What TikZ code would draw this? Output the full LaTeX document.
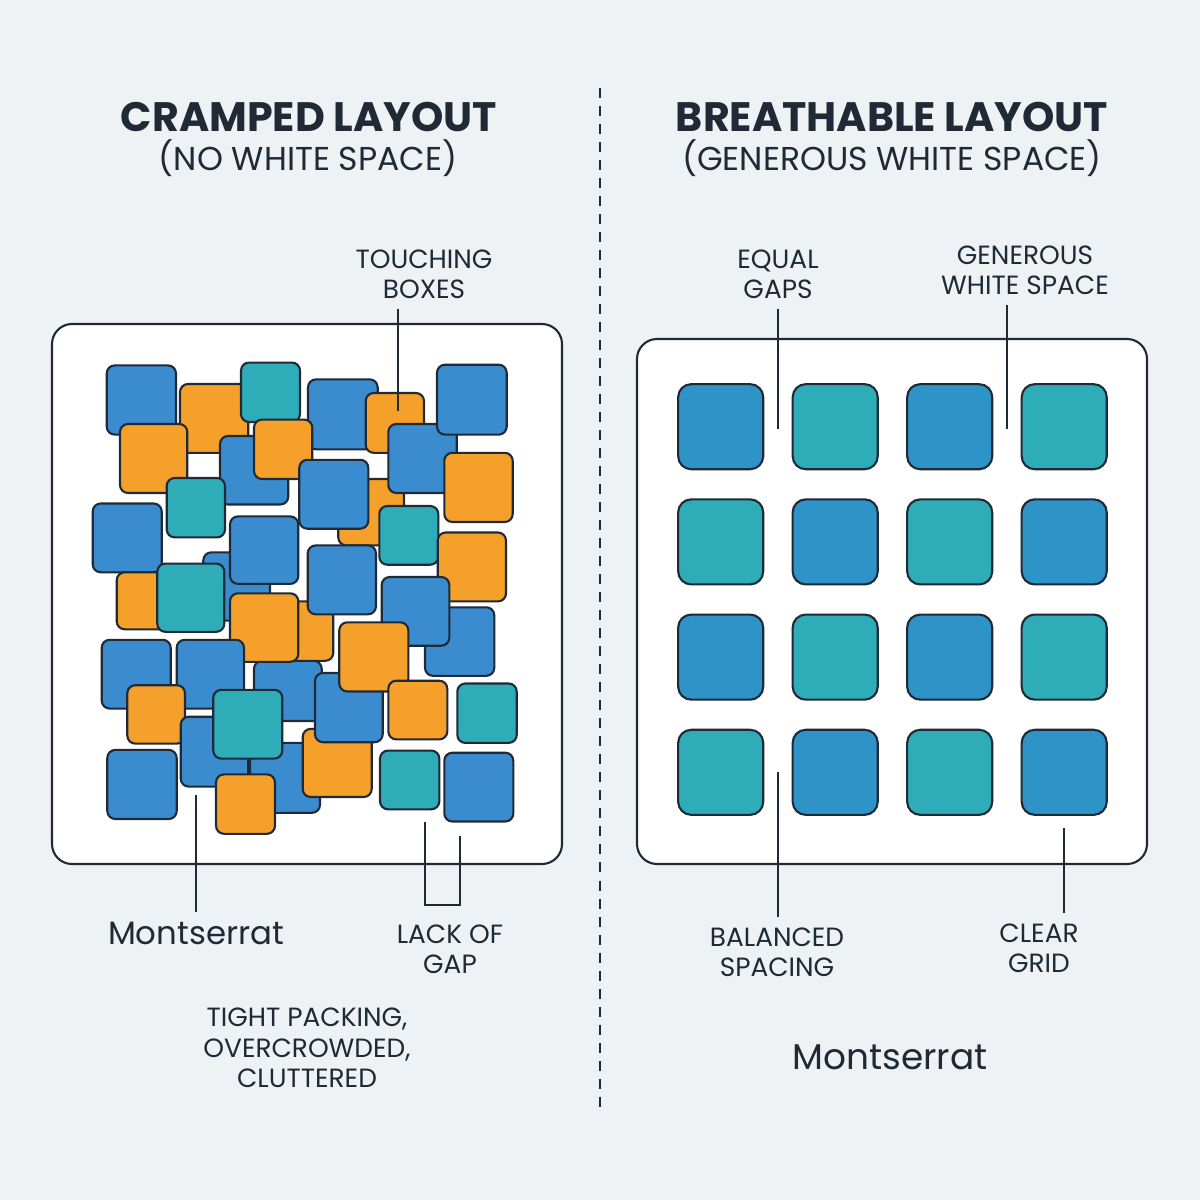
\documentclass[tikz,border=0pt]{standalone}
\usepackage{fontspec}
\setmainfont{Poppins}
\usetikzlibrary{positioning}
\definecolor{bgpaper}{HTML}{EEF2F4}
\definecolor{ink}{HTML}{1F2A36}
\definecolor{tileblue}{HTML}{3A8CCF}
\definecolor{gridblue}{HTML}{2E93C6}
\definecolor{tileteal}{HTML}{2EADB8}
\definecolor{tileorange}{HTML}{F5A02B}
\tikzset{
	tile/.style={draw=ink, line width=0.6pt, rounded corners=0.08cm},
	gridtile/.style={draw=ink, line width=0.6pt, rounded corners=0.13cm,
		minimum width=0.85cm, minimum height=0.85cm, inner sep=0pt},
	panel/.style={draw=ink, line width=0.6pt, fill=white, rounded corners=0.2cm},
	lead/.style={draw=ink, line width=0.55pt},
	note/.style={align=center, text=ink, inner sep=0pt, outer sep=0.1cm,
		font=\fontsize{7.5}{8.6}\selectfont},
	headline/.style={text=ink, inner sep=0pt, font=\fontsize{11.7}{13}\bfseries},
	subline/.style={text=ink, inner sep=0pt, font=\fontsize{9.4}{11}\selectfont},
	fontname/.style={text=ink, inner sep=0pt, outer sep=0.1cm}
}

\begin{document}
\begin{tikzpicture}[x=0.01cm, y=-0.01cm]
	
	\fill[bgpaper] (0,0) rectangle (1200,1200);
	\useasboundingbox (0,0) rectangle (1200,1200);
	
	% divider
	\draw[ink, line width=0.55pt, dash pattern=on 0.1cm off 0.08cm] (600,88) -- (600,1108);
	
	% titles
	\node[headline, anchor=base] (crampT) at (309,131) {CRAMPED LAYOUT};
	\node[subline, anchor=base] (crampS) at (308,170) {(NO WHITE SPACE)};
	\node[headline, anchor=base] (breathT) at (892,131) {BREATHABLE LAYOUT};
	\node[subline, anchor=base] (breathS) at (892,170) {(GENEROUS WHITE SPACE)};
	
	% left panel, overlapping tiles
	\draw[panel] (52,324) rectangle (562,864);
	\foreach \xa/\ya/\xb/\yb/\col in {
		106.7/365.4/176/434.6/tileblue,
		180/384/248.3/452.8/tileorange,
		241/362.6/300/422/tileteal,
		308/379.4/377.7/449.3/tileblue,
		365.7/393/424/452.8/tileorange,
		338.3/479/404/545.4/tileorange,
		388.3/424/456.7/493/tileblue,
		437/364.7/506.7/434.6/tileblue,
		444.3/452.8/512.7/522/tileorange,
		120/424/187.3/493/tileorange,
		220/436/288.3/504.5/tileblue,
		254/419.6/312.3/479/tileorange,
		166.7/478/225/537.4/tileteal,
		299.3/459.8/368.3/528.7/tileblue,
		379.3/506/438.3/564.7/tileteal,
		92.7/503.5/161.7/572.3/tileblue,
		203.3/552.4/270/620.6/tileblue,
		230/516.4/298.3/583.9/tileblue,
		116.7/572.3/183/629.3/tileorange,
		157.3/563.6/224.3/631.8/tileteal,
		437.7/532.5/506/601.4/tileorange,
		254/660.8/321.7/721/tileblue,
		266/601.4/333.3/660.8/tileorange,
		307.7/545.4/376/614.3/tileblue,
		230/593.3/298.3/661.8/tileorange,
		425/607.3/494.3/675.8/tileblue,
		381.7/577/449.3/645.7/tileblue,
		101.7/639.8/170.7/708.6/tileblue,
		176.7/639.8/244/708.6/tileblue,
		127.3/685.2/185/743.6/tileorange,
		250/742.9/320/812.8/tileblue,
		302.7/728.9/371.7/797/tileorange,
		315/673/382.7/742.2/tileblue,
		339.3/622.3/408.3/691.5/tileorange,
		388.3/680.7/447.3/739.4/tileorange,
		457.3/683.5/516.7/742.9/tileteal,
		180.7/716.7/248.3/786.6/tileblue,
		213.3/689.8/282.3/758.6/tileteal,
		107.3/749.9/176.7/819/tileblue,
		216/774.4/275/833.8/tileorange,
		380/750.6/439.3/809.3/tileteal,
		444.3/752.7/513.3/821.5/tileblue}
	\draw[tile, fill=\col] (\xa,\ya) rectangle (\xb,\yb);
	
	% right panel, even grid
	\draw[panel] (637,339) rectangle (1147,864);
	\foreach \r in {0,...,3}
	\foreach \c in {0,...,3}{
		\pgfmathparse{int(mod(\r+\c,2))}
		\ifnum\pgfmathresult=0 \def\gcol{gridblue}\else \def\gcol{tileteal}\fi
		\node[gridtile, fill=\gcol] (g-\r-\c) at (720.7+114.5*\c, 426.7+115.2*\r) {};
	}
	
	% labels, left
	\node[note] (touch) at (424,274) {TOUCHING\\BOXES};
	\coordinate (touchEnd) at (398,411);
	\draw[lead] (touch.south -| touchEnd) -- (touchEnd);
	
	\node[fontname, font=\fontsize{9.2}{11}\selectfont] (montL) at (196,933) {Montserrat};
	\coordinate (montLEnd) at (196,795);
	\draw[lead] (montL.north) -- (montLEnd);
	
	\node[note] (lack) at (450,949) {LACK OF\\GAP};
	\coordinate (gapA) at (425,822);
	\coordinate (gapB) at (460,836);
	\draw[lead] (gapA) -- ++(0,83) -| (gapB);
	
	\node[note] (tight) at (307,1048) {TIGHT PACKING,\\OVERCROWDED,\\CLUTTERED};
	
	% labels, right
	\node[note] (equal) at (778,274) {EQUAL\\GAPS};
	\coordinate (equalEnd) at (778,429);
	\draw[lead] (equal.south) -- (equalEnd);
	
	\node[note] (white) at (1025,270) {GENEROUS\\WHITE SPACE};
	\coordinate (whiteEnd) at (1007,429);
	\draw[lead] (white.south -| whiteEnd) -- (whiteEnd);
	
	\node[note] (balance) at (777,952) {BALANCED\\SPACING};
	\coordinate (balanceEnd) at (778,772);
	\draw[lead] (balance.north -| balanceEnd) -- (balanceEnd);
	
	\node[note] (clear) at (1039,948) {CLEAR\\GRID};
	\coordinate (clearEnd) at (1064,828);
	\draw[lead] (clear.north -| clearEnd) -- (clearEnd);
	
	\node[fontname, font=\fontsize{10.2}{12}\selectfont] (montR) at (890,1057) {Montserrat};
	
\end{tikzpicture}
\end{document}
